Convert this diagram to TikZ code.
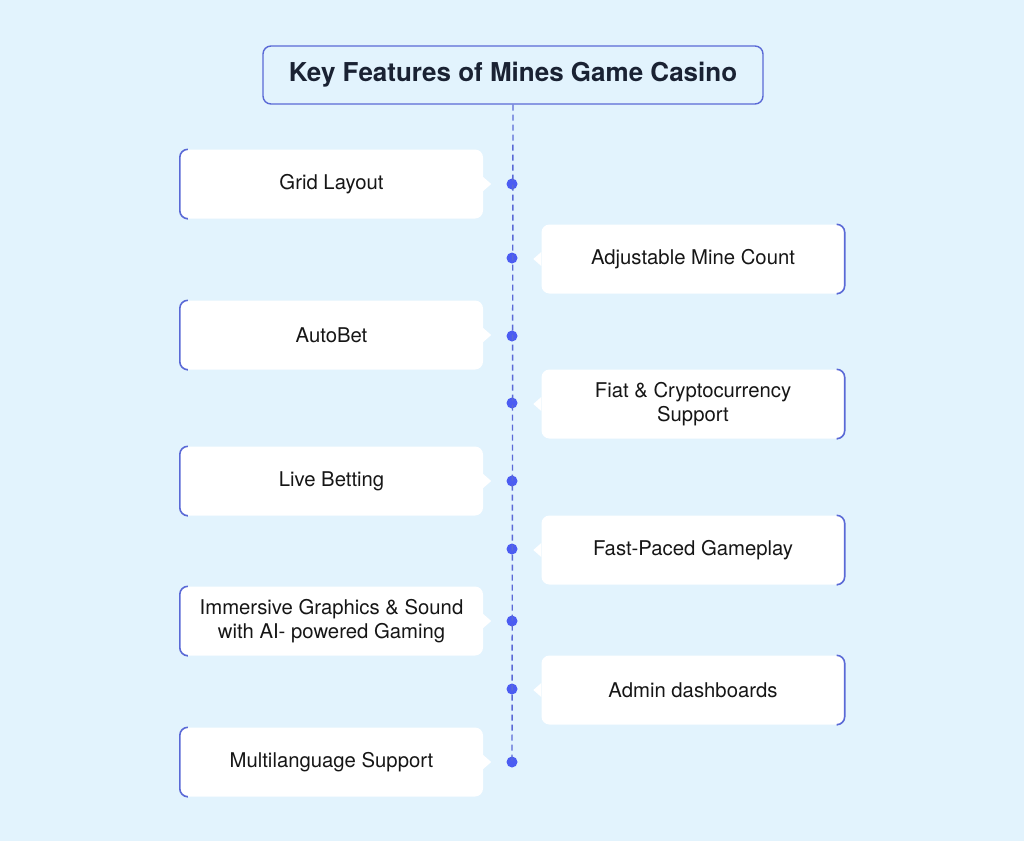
\documentclass[tikz,border=0pt]{standalone}
\usepackage{fontspec}
\setmainfont{TeX Gyre Heros}
\usetikzlibrary{positioning}
\definecolor{bgblue}{HTML}{E2F3FD}
\definecolor{edgeblue}{HTML}{5A69D6}
\definecolor{dotblue}{HTML}{4B5CF2}
\definecolor{inkdark}{HTML}{1A2233}
\definecolor{inkblack}{HTML}{161616}

\begin{document}
\begin{tikzpicture}
[x=1pt,y=-1pt,
feat/.style={fill=white,rounded corners=8pt,minimum width=303pt,minimum height=69pt,inner sep=0pt,align=center,text=inkblack,font=\fontsize{20.3}{24.5}\selectfont},
dot/.style={circle,fill=dotblue,inner sep=0pt,minimum size=11pt},
accent/.style={draw=edgeblue,line width=1.6pt,rounded corners=8pt},
dashline/.style={draw=edgeblue,line width=1.4pt,dash pattern=on 6pt off 4pt},]

\fill[bgblue] (0,0) rectangle (1024,841);

\node (T) at (513,75)[draw=edgeblue,line width=1.4pt,rounded corners=8pt,minimum width=500pt,minimum height=58pt,text=inkdark,font=\fontsize{26}{30}\selectfont\bfseries]{Key Features of Mines Game Casino};

% timeline dots
\node (d1) at (512,184)[dot]{};
\node (d2) at (512,258)[dot]{};
\node (d3) at (512,336)[dot]{};
\node (d4) at (512,403)[dot]{};
\node (d5) at (512,481)[dot]{};
\node (d6) at (512,549)[dot]{};
\node (d7) at (512,621)[dot]{};
\node (d8) at (512,689)[dot]{};
\node (d9) at (512,762)[dot]{};

\draw[dashline] (T.south) -- (d9.center);

% left boxes
\node (L1) at (331.5,184)[feat]{Grid Layout};
\node (L2) at (331.5,335)[feat]{AutoBet};
\node (L3) at (331.5,481)[feat]{Live Betting};
\node (L4) at (331.5,621)[feat]{Immersive Graphics \& Sound\\with AI- powered Gaming};
\node (L5) at (331.5,762)[feat]{Multilanguage Support};

% right boxes
\node (R1) at (693,259)[feat]{Adjustable Mine Count};
\node (R2) at (693,404)[feat]{Fiat \& Cryptocurrency\\Support};
\node (R3) at (693,550)[feat]{Fast-Paced Gameplay};
\node (R4) at (693,690)[feat]{Admin dashboards};

\foreach \b in {L1,L2,L3,L4,L5}{
  \fill[white] ([yshift=-7pt]\b.east) -- ([xshift=8pt]\b.east) -- ([yshift=7pt]\b.east) -- cycle;
  \draw[accent] ([xshift=7pt]\b.north west) -- (\b.north west) -- (\b.south west) -- ([xshift=7pt]\b.south west);
}
\foreach \b in {R1,R2,R3,R4}{
  \fill[white] ([yshift=-7pt]\b.west) -- ([xshift=-8pt]\b.west) -- ([yshift=7pt]\b.west) -- cycle;
  \draw[accent] ([xshift=-7pt]\b.north east) -- (\b.north east) -- (\b.south east) -- ([xshift=-7pt]\b.south east);
}

\end{tikzpicture}
\end{document}
